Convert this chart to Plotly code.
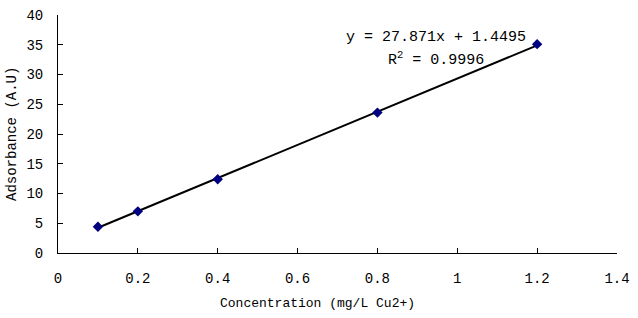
import plotly.graph_objects as go

conc = [0.1, 0.2, 0.4, 0.8, 1.2]
absorb = [4.4, 7.0, 12.4, 23.6, 35.1]
slope = 27.871
intercept = 1.4495
r2 = 0.9996

x_ticks = [0, 0.2, 0.4, 0.6, 0.8, 1, 1.2, 1.4]
x_labels = ["0", "0.2", "0.4", "0.6", "0.8", "1", "1.2", "1.4"]
y_ticks = [0, 5, 10, 15, 20, 25, 30, 35, 40]
y_labels = ["0", "5", "10", "15", "20", "25", "30", "35", "40"]

font = "Liberation Mono, DejaVu Sans Mono, monospace"

fit_x = [min(conc), max(conc)]
fit_y = [slope * v + intercept for v in fit_x]

fig = go.Figure()
fig.add_trace(go.Scatter(x=fit_x, y=fit_y, mode="lines",
                         line=dict(color="black", width=2), showlegend=False))
fig.add_trace(go.Scatter(x=conc, y=absorb, mode="markers",
                         marker=dict(symbol="diamond", size=8, color="#000080"),
                         showlegend=False))

fig.add_annotation(x=0.9475, y=36.3, xref="x", yref="y", showarrow=False,
                   text=f"y = {slope}x + {intercept}", font=dict(family=font, size=15, color="black"))
fig.add_annotation(x=0.9475, y=32.6, xref="x", yref="y", showarrow=False,
                   text=f"R<sup>2</sup> = {r2}", font=dict(family=font, size=15, color="black"))

fig.add_annotation(x=0.464, y=0, xref="paper", yref="paper", yanchor="middle", yshift=-50,
                   showarrow=False, text="Concentration (mg/L Cu2+)",
                   font=dict(family=font, size=13, color="black"))
fig.add_annotation(x=0, y=0.5, xref="paper", yref="paper", xanchor="center", xshift=-46,
                   showarrow=False, textangle=-90, text="Adsorbance (A.U)",
                   font=dict(family=font, size=14, color="black"))

fig.update_layout(
    width=638, height=318,
    margin=dict(l=58, r=20, t=8, b=65),
    plot_bgcolor="white", paper_bgcolor="white",
    font=dict(family=font, size=14, color="black"),
    xaxis=dict(range=[0, 1.4], tickvals=x_ticks, ticktext=x_labels,
               showgrid=False, zeroline=False, showline=True, linecolor="black", linewidth=1,
               ticks="inside", ticklen=5, tickcolor="black", ticklabelstandoff=12),
    yaxis=dict(range=[0, 40.001], tickvals=y_ticks, ticktext=y_labels,
               showgrid=False, zeroline=False, showline=True, linecolor="black", linewidth=1,
               ticks="inside", ticklen=5, tickcolor="black", ticklabelstandoff=11,
               ticklabeloverflow="allow"),
)

fig.write_html("out.html")
